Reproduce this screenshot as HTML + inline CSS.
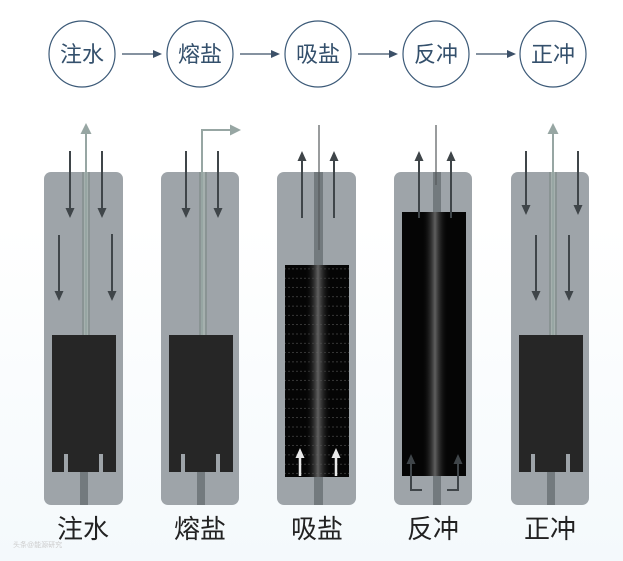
<!DOCTYPE html>
<html><head><meta charset="utf-8"><style>
html,body{margin:0;padding:0;background:#fff;width:623px;height:561px;overflow:hidden}
svg{display:block}
.t{font-family:"Liberation Sans","Noto Sans CJK SC",sans-serif}
</style></head><body>
<svg width="623" height="561" viewBox="0 0 623 561" xmlns="http://www.w3.org/2000/svg">
<defs>
<linearGradient id="bg" x1="0" y1="0" x2="0" y2="1"><stop offset="0" stop-color="#ffffff"/><stop offset="0.4" stop-color="#ffffff"/><stop offset="1" stop-color="#f4f9fc"/></linearGradient>
<linearGradient id="glow" x1="0" y1="0" x2="1" y2="0"><stop offset="0" stop-color="#000" stop-opacity="0"/><stop offset="0.5" stop-color="#6a6a6a" stop-opacity="0.9"/><stop offset="1" stop-color="#000" stop-opacity="0"/></linearGradient>
<pattern id="dash" width="64" height="9.3" patternUnits="userSpaceOnUse"><line x1="0" y1="8.5" x2="64" y2="8.5" stroke="#555" stroke-width="0.5" stroke-dasharray="2 2"/></pattern>
<marker id="ad" markerWidth="10" markerHeight="10" refX="5" refY="5" orient="auto" markerUnits="userSpaceOnUse"><path d="M0,0.5 L10,5 L0,9.5 z" fill="#3f4549"/></marker>
<marker id="al" markerWidth="11" markerHeight="11" refX="5" refY="5.5" orient="auto" markerUnits="userSpaceOnUse"><path d="M0,0 L11,5.5 L0,11 z" fill="#97a6a3"/></marker>
<marker id="aw" markerWidth="10" markerHeight="10" refX="5" refY="5" orient="auto" markerUnits="userSpaceOnUse"><path d="M0,0.5 L10,5 L0,9.5 z" fill="#e8e8e8"/></marker>
<marker id="at" markerWidth="9" markerHeight="9" refX="4" refY="4.5" orient="auto" markerUnits="userSpaceOnUse"><path d="M0,0.5 L9,4.5 L0,8.5 z" fill="#3c5068"/></marker>
</defs>
<rect width="623" height="561" fill="url(#bg)"/>

<g fill="none" stroke="#3c5a78" stroke-width="1.2">
<circle cx="82" cy="54" r="33"/><circle cx="200" cy="54" r="33"/><circle cx="318" cy="54" r="33"/><circle cx="436" cy="54" r="33"/><circle cx="553" cy="54" r="33"/>
</g>
<g stroke="#3c5068" stroke-width="1.2" marker-end="url(#at)">
<line x1="122" y1="54" x2="157" y2="54"/><line x1="240" y1="54" x2="275" y2="54"/><line x1="358" y1="54" x2="393" y2="54"/><line x1="476" y1="54" x2="511" y2="54"/>
</g>
<g class="t" font-size="22" fill="#34506c" text-anchor="middle">
<text x="82" y="62">注水</text><text x="200" y="62">熔盐</text><text x="318" y="62">吸盐</text><text x="436" y="62">反冲</text><text x="553" y="62">正冲</text>
</g>

<g fill="#9ea4a9">
<rect x="44" y="172" width="79" height="333" rx="7"/>
<rect x="161" y="172" width="78" height="333" rx="7"/>
<rect x="277" y="172" width="79" height="333" rx="7"/>
<rect x="394" y="172" width="78" height="333" rx="7"/>
<rect x="511" y="172" width="78" height="333" rx="7"/>
</g>

<!-- col1 -->
<rect x="82" y="172" width="8" height="163" fill="#8a9494"/>
<rect x="84" y="172" width="4" height="163" fill="#a5b0ae"/>
<line x1="86" y1="335" x2="86" y2="129" stroke="#97a6a3" stroke-width="2" marker-end="url(#al)"/>
<rect x="52" y="335" width="64" height="137" fill="#262626"/>
<rect x="64" y="454" width="4" height="18" fill="#9ea4a9"/><rect x="99" y="454" width="4" height="18" fill="#9ea4a9"/>
<rect x="80" y="472" width="8" height="33" fill="#737a7e"/>
<g stroke="#3f4549" stroke-width="2" marker-end="url(#ad)">
<line x1="70" y1="151" x2="70" y2="213"/><line x1="102" y1="151" x2="102" y2="213"/>
<line x1="59" y1="235" x2="59" y2="296"/><line x1="112" y1="234" x2="112" y2="296"/>
</g>

<!-- col2 -->
<rect x="199" y="172" width="8" height="163" fill="#8a9494"/>
<rect x="201" y="172" width="4" height="163" fill="#a5b0ae"/>
<polyline points="202,335 202,130 235,130" fill="none" stroke="#97a6a3" stroke-width="2" marker-end="url(#al)"/>
<rect x="169" y="335" width="64" height="137" fill="#262626"/>
<rect x="181" y="454" width="4" height="18" fill="#9ea4a9"/><rect x="216" y="454" width="4" height="18" fill="#9ea4a9"/>
<rect x="197" y="472" width="8" height="33" fill="#737a7e"/>
<g stroke="#3f4549" stroke-width="2" marker-end="url(#ad)">
<line x1="186" y1="151" x2="186" y2="213"/><line x1="218" y1="151" x2="218" y2="213"/>
</g>

<!-- col3 -->
<rect x="314" y="172" width="9" height="95" fill="#737a7e"/>
<line x1="319" y1="125" x2="319" y2="250" stroke="#55595c" stroke-width="1.2"/>
<rect x="285" y="265" width="64" height="212" fill="#050505"/>
<rect x="285" y="265" width="64" height="212" fill="url(#dash)"/>
<rect x="305" y="265" width="26" height="212" fill="url(#glow)"/>
<rect x="314" y="477" width="9" height="28" fill="#737a7e"/>
<g stroke="#3f4549" stroke-width="2" marker-end="url(#ad)">
<line x1="302" y1="218" x2="302" y2="156"/><line x1="334" y1="218" x2="334" y2="156"/>
</g>
<g stroke="#e8e8e8" stroke-width="2.5" marker-end="url(#aw)">
<line x1="300" y1="476" x2="300" y2="453"/><line x1="336" y1="476" x2="336" y2="453"/>
</g>

<!-- col4 -->
<rect x="433" y="172" width="8" height="42" fill="#737a7e"/>
<line x1="436" y1="125" x2="436" y2="185" stroke="#55595c" stroke-width="1.2"/>
<rect x="402" y="212" width="64" height="264" fill="#050505"/>
<rect x="422" y="212" width="26" height="264" fill="url(#glow)"/>
<rect x="433" y="476" width="8" height="29" fill="#737a7e"/>
<g stroke="#3f4549" stroke-width="2" marker-end="url(#ad)">
<line x1="419" y1="218" x2="419" y2="156"/><line x1="451" y1="218" x2="451" y2="156"/>
<polyline points="422,490 411,490 411,459" fill="none"/><polyline points="447,490 458,490 458,459" fill="none"/>
</g>

<!-- col5 -->
<rect x="549" y="172" width="8" height="163" fill="#8a9494"/>
<rect x="551" y="172" width="4" height="163" fill="#a5b0ae"/>
<line x1="553" y1="335" x2="553" y2="129" stroke="#97a6a3" stroke-width="2" marker-end="url(#al)"/>
<rect x="519" y="335" width="64" height="137" fill="#262626"/>
<rect x="531" y="454" width="4" height="18" fill="#9ea4a9"/><rect x="566" y="454" width="4" height="18" fill="#9ea4a9"/>
<rect x="547" y="472" width="8" height="33" fill="#737a7e"/>
<g stroke="#3f4549" stroke-width="2" marker-end="url(#ad)">
<line x1="526" y1="151" x2="526" y2="210"/><line x1="578" y1="151" x2="578" y2="210"/>
<line x1="536" y1="235" x2="536" y2="296"/><line x1="569" y1="235" x2="569" y2="296"/>
</g>

<g class="t" font-size="26" fill="#222" text-anchor="middle">
<text x="83" y="538">注水</text><text x="200" y="538">熔盐</text><text x="317" y="538">吸盐</text><text x="433" y="538">反冲</text><text x="550" y="538">正冲</text>
</g>
<text x="13" y="547" class="t" font-size="7" fill="#ccc">头条@能源研究</text>
</svg>
</body></html>
